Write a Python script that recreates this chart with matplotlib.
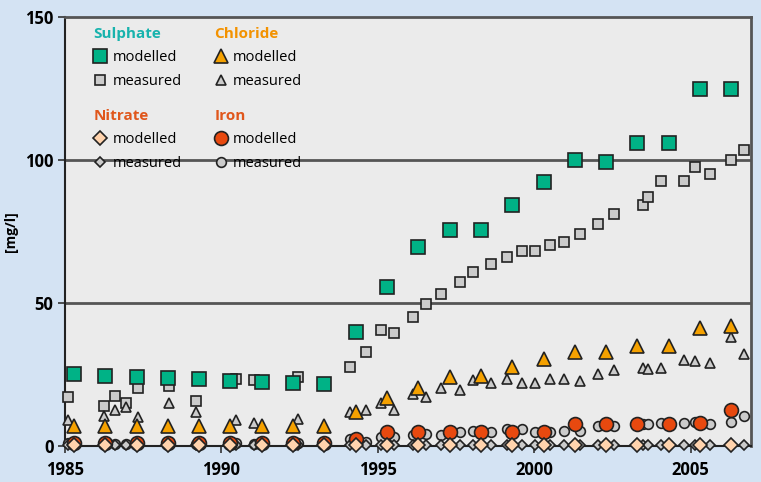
import matplotlib
matplotlib.use("Agg")
import matplotlib.pyplot as plt
from matplotlib.legend import Legend

plt.rcParams['font.family'] = ['Open Sans', 'DejaVu Sans']

# modelled values: one per year
years_mod = [1985.3 + i for i in range(22)]
sulphate_mod = [25.2, 24.5, 24.1, 23.8, 23.4, 22.8, 22.4, 22.0, 21.7, 39.9, 55.6,
                69.6, 75.5, 75.5, 84.3, 92.3, 100.0, 99.3, 106.0, 106.0, 124.8, 124.8]
chloride_mod = [7.1, 7.1, 7.0, 7.0, 7.0, 7.0, 7.0, 7.0, 7.0, 12.0, 16.7,
                20.3, 24.1, 24.5, 27.6, 30.4, 32.9, 32.9, 35.0, 35.0, 41.3, 42.0]
nitrate_mod = [0.3] * 22
iron_mod = [1.2, 1.0, 1.0, 1.0, 1.0, 1.0, 1.0, 1.0, 1.0, 2.4, 4.9,
            4.9, 4.9, 4.9, 4.9, 4.9, 7.7, 7.7, 7.7, 7.7, 8.0, 12.6]

# measured values: irregular sampling dates
years_meas = [1985.11, 1986.26, 1986.61, 1986.96, 1987.35, 1988.34, 1989.20, 1990.48,
              1991.05, 1992.46, 1994.12, 1994.63, 1995.11, 1995.53, 1996.13, 1996.55,
              1997.02, 1997.64, 1998.05, 1998.63, 1999.14, 1999.62, 2000.03, 2000.51,
              2000.96, 2001.47, 2002.04, 2002.56, 2003.48, 2003.64, 2004.06, 2004.79,
              2005.14, 2005.62, 2006.29, 2006.71]
sulphate_meas = [17.1, 14.0, 17.5, 15.0, 20.3, 21.0, 15.7, 23.4, 23.1, 24.1, 27.6, 32.9,
                 40.6, 39.5, 45.1, 49.5, 53.1, 57.3, 60.8, 63.6, 66.1, 68.2, 68.2, 70.3,
                 71.3, 74.1, 77.6, 81.1, 84.3, 87.1, 92.7, 92.7, 97.6, 95.1, 100.0, 103.5]
chloride_meas = [9.1, 10.5, 12.6, 13.6, 10.1, 15.0, 11.9, 9.1, 8.0, 9.4, 11.9, 12.6,
                 15.0, 12.6, 18.2, 17.1, 20.3, 19.6, 23.1, 22.0, 23.4, 22.0, 22.0, 23.4,
                 23.4, 22.7, 25.2, 26.6, 27.3, 26.9, 27.3, 30.1, 29.7, 29.0, 38.1, 32.2]
nitrate_meas = [0.3] * 36
iron_meas = [1.0, 0.8, 0.7, 0.7, 0.8, 0.8, 0.8, 1.0, 0.8, 1.0, 2.4, 1.4,
             3.1, 3.1, 3.8, 4.2, 3.8, 4.9, 5.2, 4.9, 5.9, 5.9, 4.9, 4.9,
             5.2, 5.2, 7.0, 7.0, 7.7, 7.7, 8.0, 8.0, 8.4, 7.7, 8.4, 10.5]

x_ticks = [1985, 1990, 1995, 2000, 2005]
y_ticks = [0, 50, 100, 150]

GREEN = '#00b286'
ORANGE = '#f5a100'
PEACH = '#ffd3ad'
RED = '#e8490f'
GREY = '#cbcbcb'
EDGE = '#222222'

fig = plt.figure(figsize=(7.61, 4.82), dpi=100, facecolor='#d4e3f3')
ax = fig.add_axes([0.0848, 0.0747, 0.9022, 0.89])
ax.set_facecolor('#ebebeb')

def pts(x, y, marker, ms, color, z):
    line, = ax.plot(x, y, linestyle='none', marker=marker, markersize=ms,
                    markerfacecolor=color, markeredgecolor=EDGE, markeredgewidth=1.2,
                    clip_on=False, zorder=z)
    return line

# measured first, modelled on top
s_meas = pts(years_meas, sulphate_meas, 's', 6.5, GREY, 3)
c_meas = pts(years_meas, chloride_meas, '^', 7.5, GREY, 3)
i_meas = pts(years_meas, iron_meas, 'o', 7, GREY, 3)
n_meas = pts(years_meas, nitrate_meas, 'D', 5, GREY, 3.5)

s_mod = pts(years_mod, sulphate_mod, 's', 9.5, GREEN, 4)
c_mod = pts(years_mod, chloride_mod, '^', 10.5, ORANGE, 4)
i_mod = pts(years_mod, iron_mod, 'o', 10, RED, 4)
n_mod = pts(years_mod, nitrate_mod, 'D', 7, PEACH, 4.5)

ax.set_xlim(1985, 2006.93)
ax.set_ylim(0, 150)
ax.set_xticks(x_ticks)
ax.set_yticks(y_ticks)
ax.tick_params(axis='both', direction='out', length=5, width=1.2, color='#333333',
               labelsize=12)
ax.tick_params(axis='x', pad=6)
ax.tick_params(axis='y', pad=3)
for lab in ax.get_xticklabels() + ax.get_yticklabels():
    lab.set_fontweight('bold')

for yv in [50, 100]:
    ax.axhline(yv, color='#555555', linewidth=2, zorder=1)

for side in ['left', 'bottom']:
    ax.spines[side].set_color('#222222')
    ax.spines[side].set_linewidth(1.5)
for side in ['top', 'right']:
    ax.spines[side].set_color('#555555')
    ax.spines[side].set_linewidth(2)

ax.set_ylabel('[mg/l]', fontsize=10, fontweight='bold', labelpad=5)

def group(title, color, handles, x, y):
    leg = Legend(ax, handles, ['modelled', 'measured'], title=title,
                 loc='upper left', bbox_to_anchor=(x, y), frameon=False,
                 alignment='left', handlelength=0.9, handletextpad=0.4,
                 labelspacing=0.6, borderaxespad=0, borderpad=0,
                 fontsize=10.5, title_fontproperties={'weight': 'bold', 'size': 11})
    leg.get_title().set_color(color)
    leg.set_zorder(6)
    ax.add_artist(leg)

group('Sulphate', '#17b3ad', [s_mod, s_meas], 0.042, 0.976)
group('Chloride', '#f39200', [c_mod, c_meas], 0.218, 0.976)
group('Nitrate', '#e0561b', [n_mod, n_meas], 0.042, 0.785)
group('Iron', '#e0561b', [i_mod, i_meas], 0.218, 0.785)

fig.savefig('out.png', dpi=100, facecolor=fig.get_facecolor())
